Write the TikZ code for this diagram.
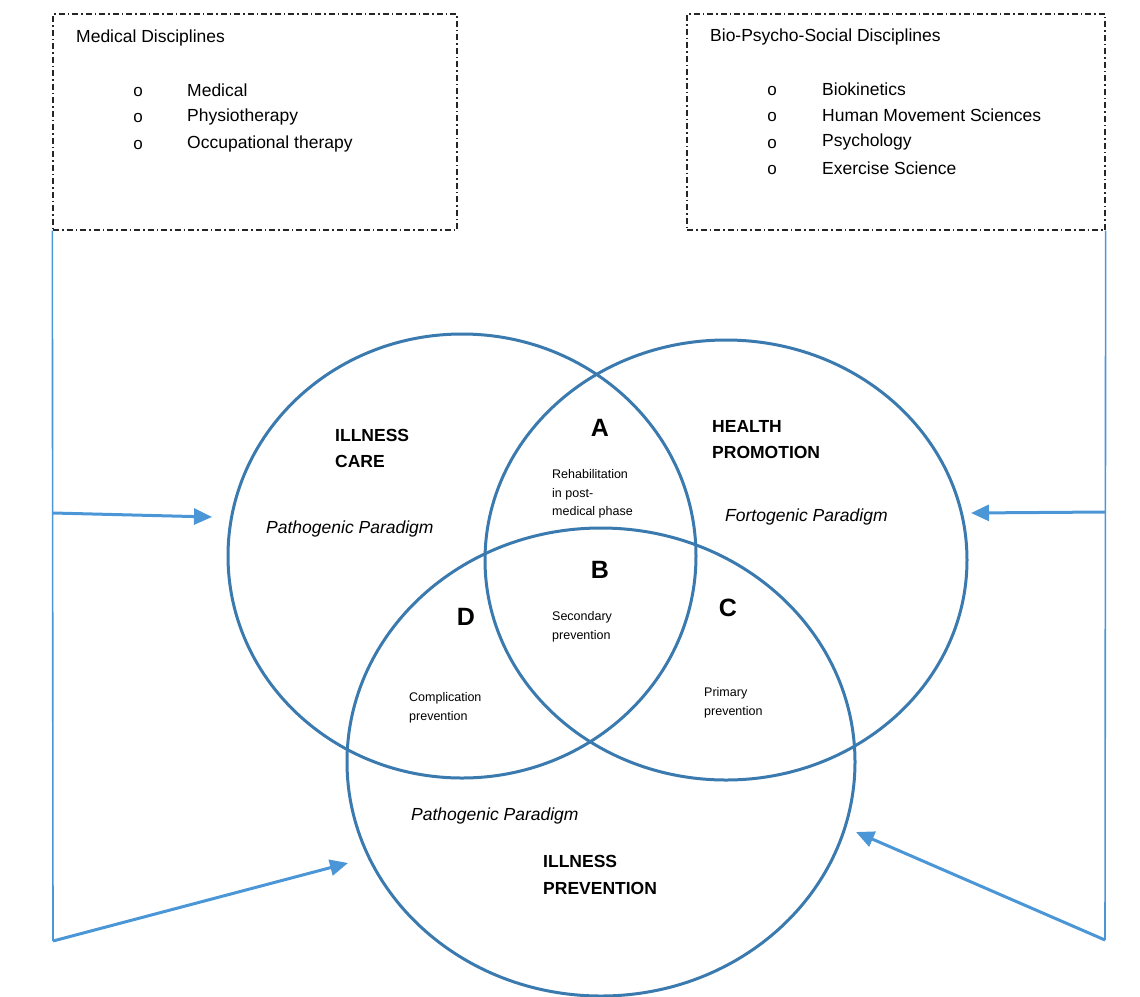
\documentclass[tikz,border=0pt]{standalone}
\usepackage{fontspec}
\setmainfont{Liberation Sans}
\usetikzlibrary{shapes.geometric,arrows.meta}
\definecolor{circ}{HTML}{3A7AAE}
\definecolor{arr}{HTML}{4A96D6}
\begin{document}
\begin{tikzpicture}[x=1pt,y=-1pt,
  venn/.style={draw=circ,line width=3pt,ellipse,inner sep=0pt},
  discbox/.style={draw=black!85,line width=1.3pt,dash pattern=on 6pt off 3pt on 1.5pt off 3pt,inner sep=0pt},
  link/.style={draw=arr,line width=1.6pt},
  pointer/.style={draw=arr,line width=3pt,-{Triangle[length=18pt,width=16pt]}},
  lbl/.style={inner sep=0pt,anchor=west,align=left},
  big/.style={lbl,font=\fontsize{17.5}{21}\selectfont},
  head/.style={lbl,font=\fontsize{17.5}{26.5}\selectfont\bfseries},
  para/.style={lbl,font=\fontsize{17.5}{21}\selectfont\itshape},
  small/.style={lbl,font=\fontsize{12.5}{18.7}\selectfont},
  letter/.style={inner sep=0pt,font=\fontsize{25}{30}\selectfont\bfseries},
  bullet/.style={inner sep=0pt,font=\fontsize{17}{20}\selectfont}
]
\useasboundingbox (0,0) rectangle (1140,996);

% discipline boxes
\node[discbox,minimum width=404pt,minimum height=216pt] (medbox) at (255,122) {};
\node[discbox,minimum width=418pt,minimum height=216pt] (bpsbox) at (896,122) {};

\node[big] (medtitle) at (76,38) {Medical Disciplines};
\node[bullet] (mb1) at (138,92) {o};
\node[bullet] (mb2) at (138,118) {o};
\node[bullet] (mb3) at (138,145) {o};
\node[big] (mi1) at (187,90) {Medical};
\node[big] (mi2) at (187,117) {Physiotherapy};
\node[big] (mi3) at (187,144) {Occupational therapy};

\node[big] (bpstitle) at (710,37) {Bio-Psycho-Social Disciplines};
\node[bullet] (bb1) at (772,91) {o};
\node[bullet] (bb2) at (772,117) {o};
\node[bullet] (bb3) at (772,144) {o};
\node[bullet] (bb4) at (772,170) {o};
\node[big] (bi1) at (822,89) {Biokinetics};
\node[big] (bi2) at (822,115) {Human Movement Sciences};
\node[big] (bi3) at (822,142) {Psychology};
\node[big] (bi4) at (822,168) {Exercise Science};

% Venn circles
\node[venn,minimum width=468pt,minimum height=444pt] (care) at (462,556) {};
\node[venn,minimum width=482pt,minimum height=440pt] (promo) at (726,560) {};
\node[venn,minimum width=508pt,minimum height=468pt] (prev) at (601,762) {};

% side connectors
\coordinate (lbot) at (53,941);
\coordinate (lmid) at (53,513);
\coordinate (ltip) at (212,517);
\coordinate (lbtip) at (348,863);
\coordinate (rbot) at (1105,940);
\coordinate (rmid) at (1105,512);
\coordinate (rtip) at (971,513);
\coordinate (rbtip) at (856,832);

\draw[link] (medbox.south west) -- (lbot);
\draw[link] (bpsbox.south east) -- (rbot);
\draw[pointer] (lmid) -- (ltip);
\draw[pointer] (lbot) -- (lbtip);
\draw[pointer] (rmid) -- (rtip);
\draw[pointer] (rbot) -- (rbtip);

% circle texts
\node[head] (carehead) at (335,448.5) {ILLNESS\\CARE};
\node[para] (carepara) at (266,529) {Pathogenic Paradigm};
\node[head] (promohead) at (712,439.5) {HEALTH\\PROMOTION};
\node[para] (promopara) at (725,517) {Fortogenic Paradigm};
\node[para] (prevpara) at (411,816) {Pathogenic Paradigm};
\node[head] (prevhead) at (543,875) {ILLNESS\\PREVENTION};

% regions
\node[letter] (la) at (600,428) {A};
\node[small] (ta) at (552,494) {Rehabilitation\\in post-\\medical phase};
\node[letter] (lb) at (600,570) {B};
\node[small] (tb) at (552,627) {Secondary\\prevention};
\node[letter] (lc) at (728,608) {C};
\node[small] (tc) at (704,703) {Primary\\prevention};
\node[letter] (ld) at (466,617) {D};
\node[small] (td) at (409,708) {Complication\\prevention};
\end{tikzpicture}
\end{document}
